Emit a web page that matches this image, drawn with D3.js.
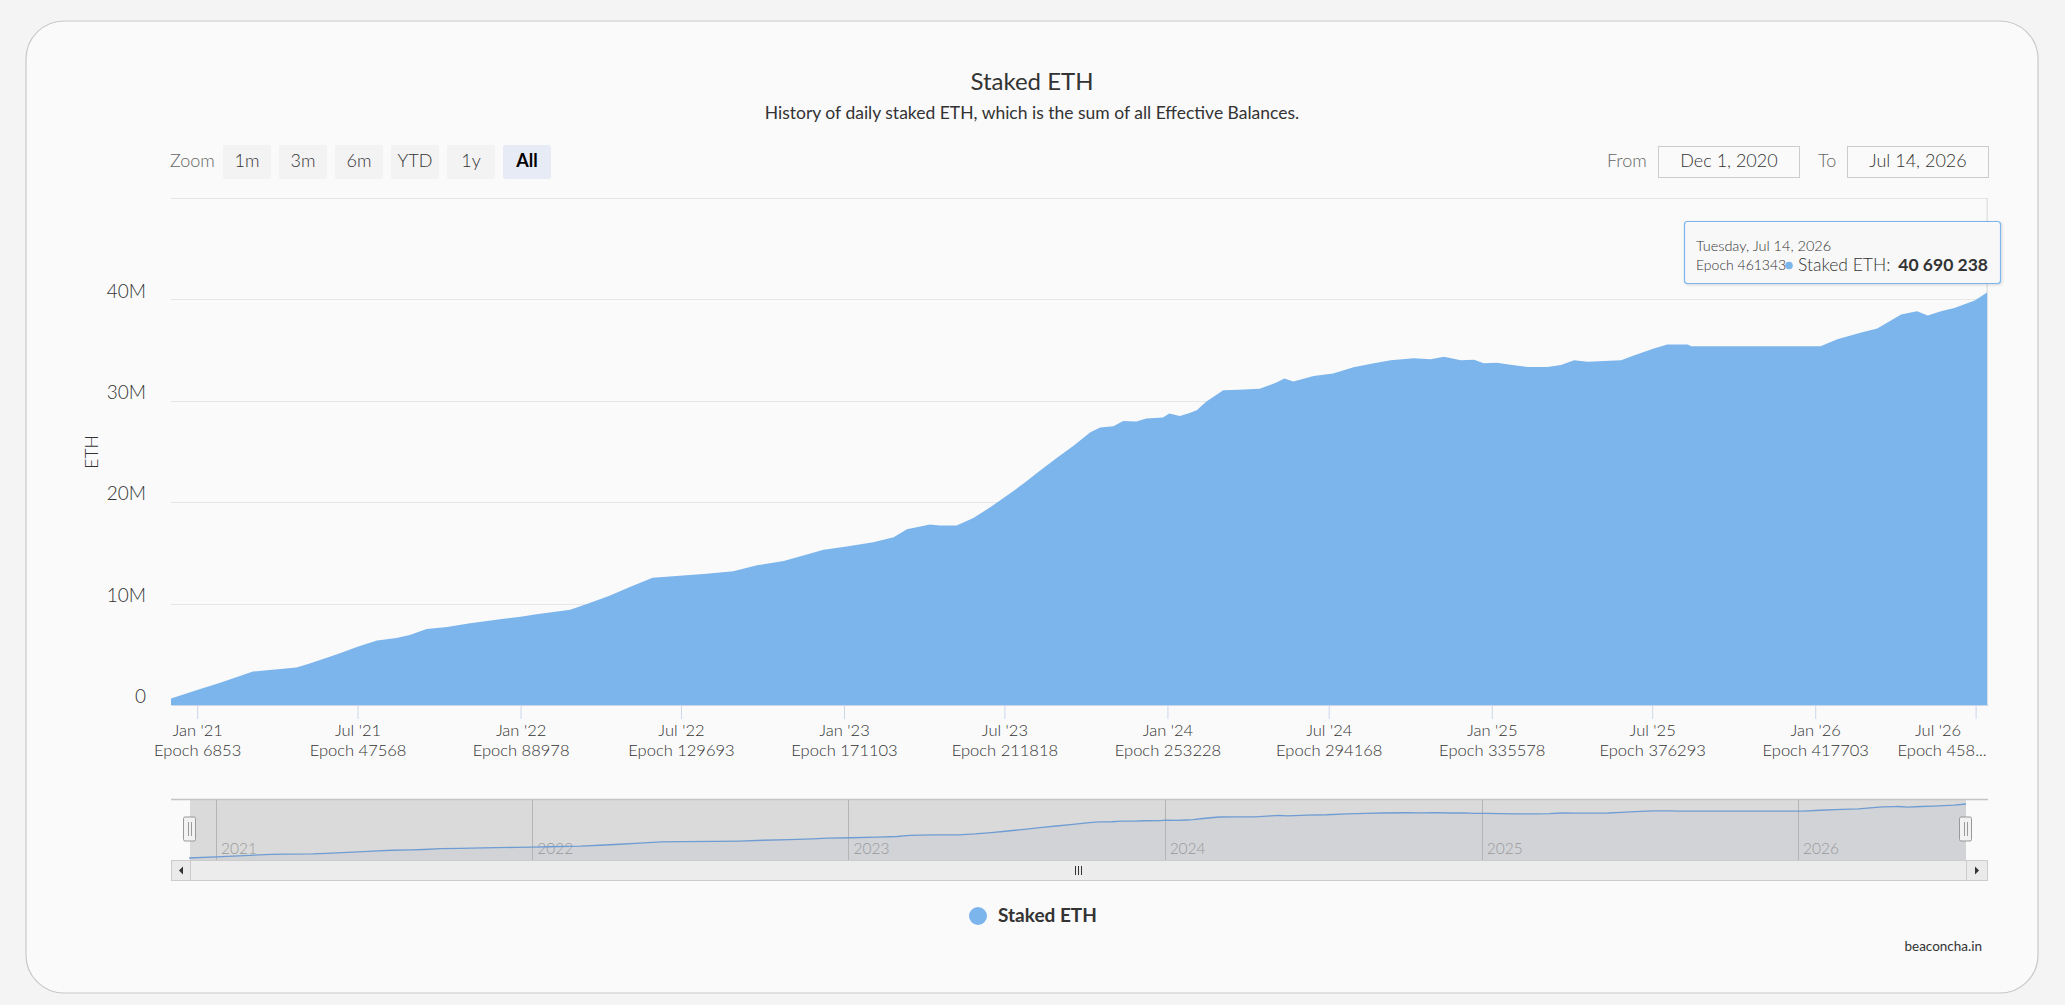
<!DOCTYPE html>
<html>
<head>
<meta charset="utf-8">
<script src="https://cdn.jsdelivr.net/npm/d3@7"></script>
<style>
  html, body { margin: 0; padding: 0; background: #f4f4f4; }
  svg { display: block; font-family: "Lato", "Open Sans", sans-serif; font-weight: 300; }
</style>
</head>
<body>
<svg id="chart" width="2065" height="1005"></svg>
<script>
// ---------------- data ----------------
const dates = ["2020-12-01","2021-01-01","2021-01-27","2021-03-05","2021-03-24","2021-04-23","2021-05-08","2021-06-08","2021-07-01","2021-07-23","2021-08-14","2021-08-29","2021-09-17","2021-10-10","2021-11-05","2021-12-13",
"2022-01-01","2022-01-19","2022-02-26","2022-03-20","2022-04-12","2022-05-05","2022-05-30","2022-06-22","2022-07-30","2022-08-29","2022-09-25","2022-10-25","2022-11-20","2022-12-09",
"2023-01-04","2023-02-03","2023-02-26","2023-03-13","2023-04-08","2023-04-19","2023-05-08","2023-05-27","2023-06-15","2023-07-04","2023-07-23","2023-08-10","2023-08-29","2023-09-17","2023-10-06","2023-10-17","2023-11-01","2023-11-12","2023-11-27","2023-12-08","2023-12-27",
"2024-01-03","2024-01-15","2024-01-26","2024-02-03","2024-02-14","2024-03-04","2024-03-22","2024-04-14","2024-05-03","2024-05-12","2024-05-22","2024-06-14","2024-07-06","2024-07-29","2024-08-21","2024-09-09","2024-10-05","2024-10-24","2024-11-08","2024-11-27","2024-12-12","2024-12-23",
"2025-01-07","2025-01-22","2025-02-10","2025-03-05","2025-03-20","2025-04-04","2025-04-19","2025-05-27","2025-06-11","2025-07-03","2025-07-18","2025-08-10","2025-08-14",
"2026-01-07","2026-01-26","2026-02-21","2026-03-12","2026-04-08","2026-04-23","2026-04-26","2026-05-08","2026-05-23","2026-06-07","2026-06-30","2026-07-14"];

// Staked ETH, millions
const stakedM = [0.6,1.48,2.2,3.3,3.45,3.7,4.1,5.0,5.75,6.35,6.6,6.9,7.5,7.7,8.05,8.5,
8.7,8.95,9.4,10.07,10.8,11.65,12.55,12.7,12.95,13.2,13.77,14.2,14.85,15.3,
15.63,16.06,16.55,17.34,17.8,17.7,17.7,18.45,19.5,20.65,21.86,23.1,24.35,25.57,26.9,27.37,27.5,28.0,27.96,28.25,28.35,
28.74,28.49,28.8,29.07,29.92,31.04,31.1,31.2,31.8,32.2,31.9,32.45,32.7,33.3,33.7,34.0,34.2,34.1,34.35,34.0,34.05,33.7,
33.76,33.56,33.33,33.33,33.53,34.0,33.86,34.0,34.5,35.17,35.56,35.56,35.37,
35.37,36.06,36.7,37.14,38.5,38.77,38.84,38.42,38.84,39.16,39.9,40.690238];

const xTickDates = ["2021-01-01","2021-07-01","2022-01-01","2022-07-01","2023-01-01","2023-07-01","2024-01-01","2024-07-01","2025-01-01","2025-07-01","2026-01-01","2026-07-01"];
const xTickMonths = ["Jan '21","Jul '21","Jan '22","Jul '22","Jan '23","Jul '23","Jan '24","Jul '24","Jan '25","Jul '25","Jan '26","Jul '26"];
const xTickEpochs = ["Epoch 6853","Epoch 47568","Epoch 88978","Epoch 129693","Epoch 171103","Epoch 211818","Epoch 253228","Epoch 294168","Epoch 335578","Epoch 376293","Epoch 417703","Epoch 458..."];
const yTicks = [0, 10e6, 20e6, 30e6, 40e6];
const yTickLabels = ["0","10M","20M","30M","40M"];
const gridValues = [10e6, 20e6, 30e6, 40e6, 50e6];
const navYears = ["2021","2022","2023","2024","2025","2026"];
const zoomButtons = ["1m","3m","6m","YTD","1y","All"];

const title = "Staked ETH";
const subtitle = "History of daily staked ETH, which is the sum of all Effective Balances.";
const tooltipDate = "Tuesday, Jul 14, 2026";
const tooltipEpoch = "Epoch 461343";
const tooltipValue = "40 690 238";

// ---------------- setup ----------------
const parse = d3.utcParse("%Y-%m-%d");
const data = dates.map((d, i) => ({date: parse(d), value: stakedM[i] * 1e6}));
const color = "#7cb5ec";

const svg = d3.select("#chart");

// card
svg.append("rect").attr("x", 26).attr("y", 21).attr("width", 2012).attr("height", 972)
  .attr("rx", 38).attr("fill", "#fafafa").attr("stroke", "#c9c9c9").attr("stroke-width", 1.2);

// title
svg.append("text").attr("x", 1032).attr("y", 90).attr("text-anchor", "middle")
  .attr("font-size", 24).attr("font-weight", 400).attr("fill", "#333").text(title);
svg.append("text").attr("x", 1032).attr("y", 119).attr("text-anchor", "middle")
  .attr("font-size", 17.5).attr("font-weight", 400).attr("fill", "#333").text(subtitle);

// plot geometry
const plot = {left: 171, right: 1988, top: 198, bottom: 705};

const x = d3.scaleUtc()
  .domain([new Date(Date.UTC(2020, 11, 2, 12)), new Date(Date.UTC(2026, 6, 15))])
  .range([plot.left, plot.right]);
const y = d3.scaleLinear().domain([0, 50e6]).range([plot.bottom, plot.top]);

// gridlines
svg.append("g").selectAll("line").data(gridValues).join("line")
  .attr("x1", plot.left).attr("x2", plot.right)
  .attr("y1", d => Math.round(y(d)) + 0.5).attr("y2", d => Math.round(y(d)) + 0.5)
  .attr("stroke", "#e6e6e6").attr("stroke-width", 1);

// thin crosshair at hovered point
const lastX = x(data[data.length-1].date);
svg.append("line").attr("x1", lastX).attr("x2", lastX)
  .attr("y1", plot.top).attr("y2", plot.bottom).attr("stroke", "#d6d6d6").attr("stroke-width", 1);

// clip
svg.append("clipPath").attr("id", "plotclip").append("rect")
  .attr("x", plot.left).attr("y", plot.top).attr("width", plot.right - plot.left).attr("height", plot.bottom - plot.top);

// main series (daily columns rendered as filled area)
const area = d3.area().x(d => x(d.date)).y0(y(0)).y1(d => y(d.value)).curve(d3.curveLinear);
svg.append("path").datum(data).attr("clip-path", "url(#plotclip)")
  .attr("d", area).attr("fill", color);

// x axis
const xAxis = d3.axisBottom(x)
  .tickValues(xTickDates.map(parse))
  .tickSize(14).tickSizeOuter(0)
  .tickFormat("");
const gx = svg.append("g").attr("transform", `translate(0,${plot.bottom})`).call(xAxis);
gx.select(".domain").attr("stroke", "#ccd6eb");
gx.selectAll(".tick line").attr("stroke", "#ccd6eb");
gx.selectAll(".tick").each(function(d, i) {
  const g = d3.select(this);
  const last = i === xTickDates.length - 1;
  const shift = last ? -38 : 0;
  g.append("text").attr("x", shift).attr("y", 31).attr("text-anchor", "middle")
    .attr("fill", "#333").attr("font-size", 16.5).attr("font-family", "Lato, sans-serif").text(xTickMonths[i]);
  g.append("text").attr("x", shift + (last ? 4 : 0)).attr("y", 51).attr("text-anchor", "middle")
    .attr("fill", "#333").attr("font-size", 16.5).attr("font-family", "Lato, sans-serif").text(xTickEpochs[i]);
});

// y axis
const yAxis = d3.axisLeft(y).tickValues(yTicks).tickSize(0)
  .tickFormat((d, i) => yTickLabels[i]);
const gy = svg.append("g").attr("transform", `translate(${plot.left - 25},0)`).call(yAxis);
gy.select(".domain").remove();
gy.selectAll(".tick text").attr("x", 0).attr("dy", "0.35em").attr("y", -9)
  .attr("fill", "#333").attr("font-size", 19).attr("font-family", "Lato, sans-serif");

svg.append("text").attr("transform", "translate(98,452) rotate(-90)").attr("text-anchor", "middle")
  .attr("font-size", 17.5).attr("fill", "#333").text("ETH");

// zoom buttons
svg.append("text").attr("x", 170).attr("y", 167).attr("font-size", 18).attr("fill", "#666").text("Zoom");
const btnX = (d, i) => 223 + i * 56;
const btn = svg.append("g").selectAll("g").data(zoomButtons).join("g")
  .attr("transform", (d, i) => `translate(${btnX(d, i)},145)`);
btn.append("rect").attr("width", 48).attr("height", 34).attr("rx", 2)
  .attr("fill", d => d === "All" ? "#e6ebf5" : "#f3f3f3");
btn.append("text").attr("x", 24).attr("y", 22).attr("text-anchor", "middle")
  .attr("font-size", 18).attr("font-weight", d => d === "All" ? "bold" : 300)
  .attr("fill", d => d === "All" ? "#000" : "#333").text(d => d);

// range inputs
svg.append("text").attr("x", 1607).attr("y", 167).attr("font-size", 18).attr("fill", "#666").text("From");
svg.append("rect").attr("x", 1658.5).attr("y", 146.5).attr("width", 141).attr("height", 31)
  .attr("fill", "#fafafa").attr("stroke", "#cccccc");
svg.append("text").attr("x", 1729).attr("y", 167).attr("text-anchor", "middle").attr("font-size", 18).attr("fill", "#333").text("Dec 1, 2020");
svg.append("text").attr("x", 1818).attr("y", 167).attr("font-size", 18).attr("fill", "#666").text("To");
svg.append("rect").attr("x", 1847.5).attr("y", 146.5).attr("width", 141).attr("height", 31)
  .attr("fill", "#fafafa").attr("stroke", "#cccccc");
svg.append("text").attr("x", 1918).attr("y", 167).attr("text-anchor", "middle").attr("font-size", 18).attr("fill", "#333").text("Jul 14, 2026");

// ---------------- navigator ----------------
const nav = {left: 190, right: 1966, top: 799, bottom: 860};
const nx = d3.scaleUtc().domain([parse("2020-12-02"), parse("2026-07-14")]).range([nav.left, nav.right]);
const ny = d3.scaleLinear().domain(d3.extent(data, d => d.value)).range([858, 804]);

svg.append("rect").attr("x", nav.left).attr("y", nav.top).attr("width", nav.right - nav.left)
  .attr("height", nav.bottom - nav.top).attr("fill", "#dadada");
const navArea = d3.area().x(d => nx(d.date)).y0(nav.bottom).y1(d => ny(d.value));
svg.append("path").datum(data).attr("d", navArea).attr("fill", "rgba(51,92,173,0.05)");

const yearDates = navYears.map(s => parse(s + "-01-01"));
svg.append("g").selectAll("line").data(yearDates).join("line")
  .attr("x1", d => Math.round(nx(d)) + 0.5).attr("x2", d => Math.round(nx(d)) + 0.5)
  .attr("y1", nav.top).attr("y2", nav.bottom).attr("stroke", "#b4b4b4");
svg.append("g").selectAll("text").data(yearDates).join("text")
  .attr("x", d => nx(d) + 5).attr("y", 854).attr("font-size", 15.5).attr("fill", "#999")
  .text((d, i) => navYears[i]);

const navLine = d3.line().x(d => nx(d.date)).y(d => ny(d.value));
svg.append("path").datum(data).attr("d", navLine).attr("fill", "none")
  .attr("stroke", "#6f9cd2").attr("stroke-width", 1.3);

// outline
svg.append("line").attr("x1", plot.left).attr("x2", plot.right).attr("y1", nav.top + 0.5).attr("y2", nav.top + 0.5)
  .attr("stroke", "#c4c4c4").attr("stroke-width", 1.3);

// handles
[nav.left, nav.right].forEach(hx => {
  const g = svg.append("g").attr("transform", `translate(${hx},829)`);
  g.append("rect").attr("x", -6.5).attr("y", -12).attr("width", 12).attr("height", 24).attr("rx", 1.5)
    .attr("fill", "#f2f2f2").attr("stroke", "#999");
  g.append("line").attr("x1", -1.5).attr("x2", -1.5).attr("y1", -7).attr("y2", 7).attr("stroke", "#999");
  g.append("line").attr("x1", 1.5).attr("x2", 1.5).attr("y1", -7).attr("y2", 7).attr("stroke", "#999");
});

// scrollbar
const sb = {top: 860, h: 20};
svg.append("rect").attr("x", plot.left + 0.5).attr("y", sb.top + 0.5).attr("width", plot.right - plot.left - 1).attr("height", sb.h)
  .attr("fill", "#f2f2f2").attr("stroke", "#cccccc");
svg.append("rect").attr("x", nav.left + 0.5).attr("y", sb.top + 0.5).attr("width", nav.right - nav.left).attr("height", sb.h)
  .attr("fill", "#ececec").attr("stroke", "#cccccc");
[[plot.left + 0.5, 1], [nav.right + 0.5, -1]].forEach(([bxl, dir]) => {
  const w = dir === 1 ? nav.left - plot.left : plot.right - nav.right - 1;
  svg.append("rect").attr("x", bxl).attr("y", sb.top + 0.5).attr("width", w).attr("height", sb.h)
    .attr("fill", "#eaeaea").attr("stroke", "#cccccc");
  const cx = bxl + w / 2, cy = sb.top + 10.5;
  const p = dir === 1 ? `M${cx+2},${cy-4}L${cx-2},${cy}L${cx+2},${cy+4}Z` : `M${cx-2},${cy-4}L${cx+2},${cy}L${cx-2},${cy+4}Z`;
  svg.append("path").attr("d", p).attr("fill", "#333");
});
const gripX = (nav.left + nav.right) / 2;
[-3, 0, 3].forEach(o => svg.append("line").attr("x1", gripX + o + 0.5).attr("x2", gripX + o + 0.5)
  .attr("y1", sb.top + 6).attr("y2", sb.top + 15).attr("stroke", "#333"));

// legend
svg.append("circle").attr("cx", 978).attr("cy", 916).attr("r", 9).attr("fill", color);
svg.append("text").attr("x", 998).attr("y", 922).attr("font-size", 19).attr("font-weight", "bold")
  .attr("fill", "#333").text(title);

// credit
svg.append("text").attr("x", 1982).attr("y", 951).attr("text-anchor", "end").attr("font-size", 13.5)
  .attr("font-weight", 400).attr("fill", "#333").text("beaconcha.in");

// ---------------- tooltip ----------------
const defs = svg.append("defs");
const f = defs.append("filter").attr("id", "shadow").attr("x", "-10%").attr("y", "-20%").attr("width", "130%").attr("height", "160%");
f.append("feDropShadow").attr("dx", 1).attr("dy", 1).attr("stdDeviation", 1.5).attr("flood-color", "#000").attr("flood-opacity", 0.15);

const tt = svg.append("g");
tt.append("rect").attr("x", 1684.5).attr("y", 221.5).attr("width", 316).attr("height", 62).attr("rx", 3)
  .attr("fill", "rgba(250,250,250,0.92)").attr("stroke", color).attr("stroke-width", 1.2).attr("filter", "url(#shadow)");
tt.append("text").attr("x", 1696).attr("y", 251).attr("font-size", 14.5).attr("fill", "#333").text(tooltipDate);
tt.append("text").attr("x", 1696).attr("y", 270).attr("font-size", 14).attr("fill", "#333").text(tooltipEpoch);
tt.append("circle").attr("cx", 1789).attr("cy", 265.5).attr("r", 3.8).attr("fill", color);
tt.append("text").attr("x", 1798).attr("y", 271).attr("font-size", 17.5).attr("fill", "#333").text("Staked ETH:");
tt.append("text").attr("x", 1988).attr("y", 271).attr("text-anchor", "end").attr("font-size", 17.5)
  .attr("font-weight", "bold").attr("fill", "#333").text(tooltipValue);
</script>
</body>
</html>
